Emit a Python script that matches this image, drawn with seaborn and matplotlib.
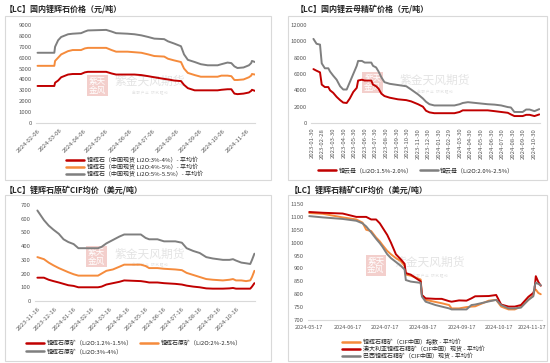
import matplotlib
matplotlib.use("Agg")
import matplotlib.pyplot as plt
import matplotlib.dates as mdates
import matplotlib.transforms as mtransforms
import seaborn as sns
import pandas as pd

# ---------- panel 1: 国内锂辉石价格 ----------
p1_dates = ["2024-02-06", "2024-02-28", "2024-02-29", "2024-03-04", "2024-03-08", "2024-03-17",
            "2024-03-23", "2024-04-03", "2024-04-08", "2024-04-12", "2024-05-06", "2024-05-13",
            "2024-05-19", "2024-06-03", "2024-06-12", "2024-06-21", "2024-06-30", "2024-07-08",
            "2024-07-21", "2024-07-26", "2024-08-03", "2024-08-12", "2024-08-16", "2024-08-21",
            "2024-08-30", "2024-09-07", "2024-09-16", "2024-09-29", "2024-10-04", "2024-10-12",
            "2024-10-17", "2024-10-21", "2024-10-25", "2024-11-02", "2024-11-09", "2024-11-12",
            "2024-11-13", "2024-11-17"]
p1_low = [3400, 3400, 3700, 3900, 4200, 4450, 4500, 4500, 4650, 4700, 4700, 4550, 4450, 4450,
          4450, 4400, 4300, 4200, 4050, 4000, 3900, 3850, 3500, 3200, 3000, 3000, 3000, 3000,
          3050, 3100, 3100, 2700, 2650, 2700, 2800, 2950, 3050, 2950]
p1_mid = [5250, 5250, 5700, 6000, 6300, 6600, 6700, 6700, 6850, 6900, 6900, 6700, 6550, 6550,
          6500, 6450, 6300, 6150, 6100, 5900, 5750, 5600, 5000, 4600, 4400, 4250, 4250, 4250,
          4350, 4350, 4300, 3950, 3950, 4000, 4200, 4350, 4500, 4450]
p1_high = [6450, 6450, 7000, 7600, 7900, 8150, 8200, 8250, 8400, 8500, 8550, 8400, 8250, 8200,
           8150, 8050, 7900, 7750, 7700, 7500, 7300, 7050, 6300, 5800, 5600, 5400, 5300, 5300,
           5400, 5550, 5500, 5200, 5050, 5100, 5300, 5500, 5700, 5600]
p1_names = ["锂辉石（中国现货 Li2O:3%-4%）- 平均价",
            "锂辉石（中国现货 Li2O:4%-5%）- 平均价",
            "锂辉石（中国现货 Li2O:5%-5.5%）- 平均价"]
p1_ticks = ["2024-02-06", "2024-03-06", "2024-04-06", "2024-05-06", "2024-06-06",
            "2024-07-06", "2024-08-06", "2024-09-06", "2024-10-06", "2024-11-06"]

# ---------- panel 2: 国内锂云母精矿价格 ----------
p2_dates = ["2023-02-01", "2023-02-10", "2023-02-20", "2023-02-25", "2023-03-06", "2023-03-16",
            "2023-03-21", "2023-03-30", "2023-04-09", "2023-04-19", "2023-04-28", "2023-05-08",
            "2023-05-17", "2023-05-27", "2023-06-06", "2023-06-10", "2023-06-21", "2023-06-29",
            "2023-07-18", "2023-07-23", "2023-08-01", "2023-08-08", "2023-08-16", "2023-08-25",
            "2023-09-09", "2023-10-03", "2023-10-27", "2023-11-10", "2023-11-30", "2023-12-14",
            "2023-12-23", "2024-01-02", "2024-01-16", "2024-03-14", "2024-03-29", "2024-04-07",
            "2024-04-22", "2024-06-18", "2024-07-08", "2024-07-27", "2024-08-15", "2024-08-24",
            "2024-09-03", "2024-09-27", "2024-10-07", "2024-10-17", "2024-10-31", "2024-11-14"]
p2_low = [6600, 6400, 6200, 4700, 4400, 4400, 4000, 3700, 3200, 2800,
          2500, 2450, 3000, 3800, 4300, 5200, 5300, 5200, 5200, 4700,
          4500, 4200, 3600, 3300, 3100, 2900, 2800, 2650, 2300, 2000,
          1500, 1300, 1200, 1200, 1350, 1550, 1550, 1550, 1450, 1350,
          1250, 1050, 850, 850, 1000, 1000, 850, 1050]
p2_high = [10300, 9700, 9600, 7300, 6700, 6700, 6300, 5800, 5300, 4500,
           4100, 4100, 5000, 6000, 7000, 7600, 7600, 7400, 7400, 7000,
           6800, 6300, 5600, 5000, 4800, 4650, 4500, 4100, 3500, 3000,
           2600, 2300, 2150, 2150, 2300, 2450, 2550, 2300, 2250, 2150,
           1950, 1900, 1350, 1350, 1650, 1650, 1450, 1700]
p2_names = ["锂云母（Li2O:1.5%-2.0%）", "锂云母（Li2O:2.0%-2.5%）"]
p2_ticks = ["2023-01-30", "2023-02-28", "2023-03-30", "2023-04-30", "2023-05-30", "2023-06-30",
            "2023-07-30", "2023-08-30", "2023-09-30", "2023-10-30", "2023-11-30", "2023-12-30",
            "2024-01-30", "2024-02-29", "2024-03-30", "2024-04-30", "2024-05-30", "2024-06-30",
            "2024-07-30", "2024-08-30", "2024-09-30", "2024-10-30"]

# ---------- panel 3: 锂辉石原矿CIF均价 ----------
p3_dates = ["2023-11-16", "2023-11-27", "2023-12-05", "2023-12-13", "2023-12-22", "2023-12-30",
            "2024-01-07", "2024-01-16", "2024-01-24", "2024-02-26", "2024-03-03", "2024-03-11",
            "2024-03-22", "2024-04-02", "2024-04-10", "2024-05-08", "2024-05-16", "2024-05-22",
            "2024-06-05", "2024-06-16", "2024-07-05", "2024-07-16", "2024-07-24", "2024-08-04",
            "2024-08-15", "2024-08-26", "2024-09-06", "2024-09-23", "2024-10-04", "2024-10-10",
            "2024-10-15", "2024-10-24", "2024-11-01", "2024-11-08", "2024-11-11", "2024-11-15"]
p3_low = [170, 170, 155, 145, 135, 125, 115, 110, 100, 100,
          105, 120, 130, 140, 150, 145, 140, 135, 135, 130,
          125, 120, 112, 105, 100, 92, 90, 90, 92, 95,
          90, 90, 90, 90, 105, 130]
p3_mid = [320, 305, 280, 260, 240, 225, 210, 195, 185, 185,
          200, 220, 230, 250, 265, 265, 255, 240, 240, 235,
          230, 225, 205, 190, 175, 160, 155, 150, 155, 160,
          150, 150, 145, 150, 175, 220]
p3_high = [660, 590, 550, 520, 490, 450, 430, 415, 385, 385,
           395, 420, 445, 470, 485, 485, 460, 450, 450, 435,
           435, 425, 385, 365, 350, 320, 310, 300, 300, 305,
           295, 280, 275, 270, 300, 345]
p3_names = ["锂辉石原矿（Li2O:1.2%-1.5%）", "锂辉石原矿（Li2O:2%-2.5%）", "锂辉石原矿（Li2O:3%-4%）"]
p3_ticks = ["2023-11-16", "2023-12-16", "2024-01-16", "2024-02-16", "2024-03-16", "2024-04-16",
            "2024-05-16", "2024-06-16", "2024-07-16", "2024-08-16", "2024-09-16", "2024-10-16"]

# ---------- panel 4: 锂辉石精矿CIF均价 ----------
p4_dates = ["2024-05-17", "2024-05-28", "2024-06-13", "2024-06-24", "2024-06-29", "2024-07-02",
            "2024-07-06", "2024-07-10", "2024-07-13", "2024-07-15", "2024-07-19", "2024-07-22",
            "2024-07-26", "2024-07-30", "2024-08-02", "2024-08-03", "2024-08-07", "2024-08-15",
            "2024-08-16", "2024-08-19", "2024-08-27", "2024-09-01", "2024-09-07", "2024-09-09",
            "2024-09-15", "2024-09-21", "2024-09-25", "2024-09-28", "2024-10-09", "2024-10-15",
            "2024-10-19", "2024-10-25", "2024-10-30", "2024-11-04", "2024-11-10", "2024-11-14",
            "2024-11-15", "2024-11-16", "2024-11-18", "2024-11-20"]
p4_index = [1115, 1112, 1098, 1090, 1078, 1050, 1045, 1020, 1005, 992,
            968, 955, 940, 928, 910, 876, 872, 857, 797, 778,
            770, 765, 758, 745, 745, 750, 752, 753, 775, 778,
            752, 741, 741, 752, 778, 797, 815, 818, 805, 800]
p4_aus = [1119, 1116, 1113, 1100, 1100, 1100, 1090, 1090, 1075, 1060,
          1030, 1000, 955, 935, 918, 882, 876, 850, 797, 784,
          782, 782, 773, 771, 776, 775, 784, 792, 793, 797,
          760, 752, 752, 758, 790, 805, 820, 870, 848, 833]
p4_bra = [1103, 1098, 1092, 1085, 1075, 1063, 1040, 1015, 998, 985,
          955, 940, 925, 910, 896, 855, 849, 844, 791, 771,
          758, 752, 745, 741, 741, 741, 758, 760, 772, 778,
          758, 745, 745, 748, 778, 792, 830, 845, 840, 835]
p4_names = ["锂辉石精矿（CIF中国）指数 - 平均价",
            "澳大利亚锂辉石精矿（CIF中国）现货 - 平均价",
            "巴西锂辉石精矿（CIF中国）现货 - 平均价"]
p4_ticks = ["2024-05-17", "2024-06-17", "2024-07-17", "2024-08-17",
            "2024-09-17", "2024-10-17", "2024-11-17"]

RED = "#C00000"
ORANGE = "#F58B3C"
GRAY = "#7F7F7F"
TXT = "#595959"
EDGE = "#D9D9D9"

sns.set_style("white")
plt.rcParams["font.family"] = ["Noto Sans CJK SC", "DejaVu Sans"]
plt.rcParams["axes.unicode_minus"] = False


def to_long(dates, cols):
    parts = []
    for name, vals in cols:
        parts.append(pd.DataFrame({"date": pd.to_datetime(dates), "value": vals, "series": name}))
    return pd.concat(parts, ignore_index=True)


def draw_panel(ax, df, order, colors, xlim, ylim, yticks, xticks, rot, leg_xy, ncol, spacing,
               xsize=4.3):
    sns.lineplot(data=df, x="date", y="value", hue="series", hue_order=order,
                 palette=colors, linewidth=1.4, ax=ax, zorder=3)
    ax.set_xlim(pd.to_datetime(xlim[0]), pd.to_datetime(xlim[1]))
    ax.set_ylim(*ylim)
    ax.set_yticks(yticks)
    ax.set_xticks(pd.to_datetime(xticks))
    ax.xaxis.set_major_formatter(mdates.DateFormatter("%Y-%m-%d"))
    ax.set_xlabel("")
    ax.set_ylabel("")
    for s in ["left", "top", "right"]:
        ax.spines[s].set_visible(False)
    ax.spines["bottom"].set_color(EDGE)
    ax.spines["bottom"].set_linewidth(0.8)
    ax.tick_params(axis="x", length=2, width=0.6, color=EDGE, labelsize=xsize,
                   labelcolor=TXT, pad=1.5)
    ax.tick_params(axis="y", length=0, labelsize=4.3, labelcolor=TXT, pad=3)
    if rot == 45:
        for lab in ax.get_xticklabels():
            lab.set_rotation(45)
            lab.set_ha("right")
            lab.set_rotation_mode("anchor")
    elif rot == 90:
        for lab in ax.get_xticklabels():
            lab.set_rotation(90)
    sns.move_legend(ax, "center", bbox_to_anchor=leg_xy, ncol=ncol, frameon=False,
                    title=None, fontsize=4.3, handlelength=3.0, handletextpad=0.4,
                    columnspacing=1.2, labelspacing=spacing, borderaxespad=0)
    for line in ax.get_legend().get_lines():
        line.set_linewidth(1.8)


def watermark(ax, seal_xy, text_xy):
    ax.text(*seal_xy, "紫天\n金风", transform=ax.transAxes, ha="center", va="center",
            fontsize=6.2, color="white", linespacing=0.9, zorder=1,
            bbox=dict(boxstyle="square,pad=0.2", fc="#F3CFCC", ec="none"))
    ax.text(*text_xy, "紫金天风期货", transform=ax.transAxes, ha="center", va="center",
            fontsize=8.5, color="#E4E4E4", zorder=1)
    ax.text(text_xy[0], text_xy[1] - 0.12, "金 融 产 业   研 究 驱 动", transform=ax.transAxes,
            ha="center", va="center", fontsize=2.6, color="#E4E4E4", zorder=1)


fig = plt.figure(figsize=(5.5, 3.63), dpi=100)
W, H = 550.0, 363.0


def box(x0, y0, x1, y1):
    fig.add_artist(plt.Rectangle((x0 / W, 1 - y1 / H), (x1 - x0) / W, (y1 - y0) / H,
                                 transform=fig.transFigure, fill=False, ec=EDGE, lw=0.8))


def axes_px(x0, y0, x1, y1):
    return fig.add_axes([x0 / W, 1 - y1 / H, (x1 - x0) / W, (y1 - y0) / H])


box(5, 16, 271, 180)
box(288, 16, 547, 180)
box(5, 195, 271, 361)
box(288, 195, 547, 361)

title_kw = dict(fontsize=5.8, fontweight="bold", color="#262626", va="center", ha="left")
fig.text(5 / W, 1 - 9 / H, "【LC】国内锂辉石价格（元/吨）", **title_kw)
fig.text(296 / W, 1 - 9 / H, "【LC】国内锂云母精矿价格（元/吨）", **title_kw)
fig.text(5 / W, 1 - 190 / H, "【LC】锂辉石原矿CIF均价（美元/吨）", **title_kw)
fig.text(290 / W, 1 - 190 / H, "【LC】锂辉石精矿CIF均价（美元/吨）", **title_kw)

# panel 1
ax1 = axes_px(36, 25, 255, 123)
df1 = to_long(p1_dates, [(p1_names[0], p1_low), (p1_names[1], p1_mid), (p1_names[2], p1_high)])
draw_panel(ax1, df1, p1_names, [RED, ORANGE, GRAY], ("2024-02-04", "2024-11-17"),
           (0, 9000), range(0, 9001, 1000), p1_ticks, 45, (0.45, -0.45), 1, 0.15)
watermark(ax1, (0.28, 0.38), (0.52, 0.43))

# panel 2
ax2 = axes_px(311, 25, 540, 123)
df2 = to_long(p2_dates, [(p2_names[0], p2_low), (p2_names[1], p2_high)])
draw_panel(ax2, df2, p2_names, [RED, GRAY], ("2023-01-25", "2024-11-16"),
           (0, 12000), range(0, 12001, 2000), p2_ticks, 90, (0.46, -0.48), 2, 0.3)
watermark(ax2, (0.27, 0.41), (0.54, 0.44))

# panel 3 (legend order gives red/orange on row 1, gray on row 2)
ax3 = axes_px(35, 205, 255, 301)
order3 = [p3_names[0], p3_names[2], p3_names[1]]
df3 = to_long(p3_dates, [(p3_names[0], p3_low), (p3_names[1], p3_mid), (p3_names[2], p3_high)])
draw_panel(ax3, df3, order3, [RED, GRAY, ORANGE], ("2023-11-12", "2024-11-16"),
           (0, 700), range(0, 701, 100), p3_ticks, 45, (0.45, -0.48), 2, 0.45)
watermark(ax3, (0.28, 0.46), (0.52, 0.49))

# panel 4
ax4 = axes_px(308, 204, 542, 320)
df4 = to_long(p4_dates, [(p4_names[0], p4_index), (p4_names[1], p4_aus), (p4_names[2], p4_bra)])
draw_panel(ax4, df4, p4_names, [ORANGE, RED, GRAY], ("2024-05-16", "2024-11-21"),
           (700, 1150), range(700, 1151, 50), p4_ticks, 0, (0.45, -0.25), 1, 0.15,
           xsize=4.0)
watermark(ax4, (0.29, 0.47), (0.52, 0.50))
# last date label sits against the right edge; nudge it left a few pixels so it stays inside
last = ax4.get_xticklabels()[-1]
last.set_transform(last.get_transform()
                   + mtransforms.ScaledTranslation(-0.05, 0, fig.dpi_scale_trans))

fig.savefig("out.png", dpi=100, facecolor="white")
